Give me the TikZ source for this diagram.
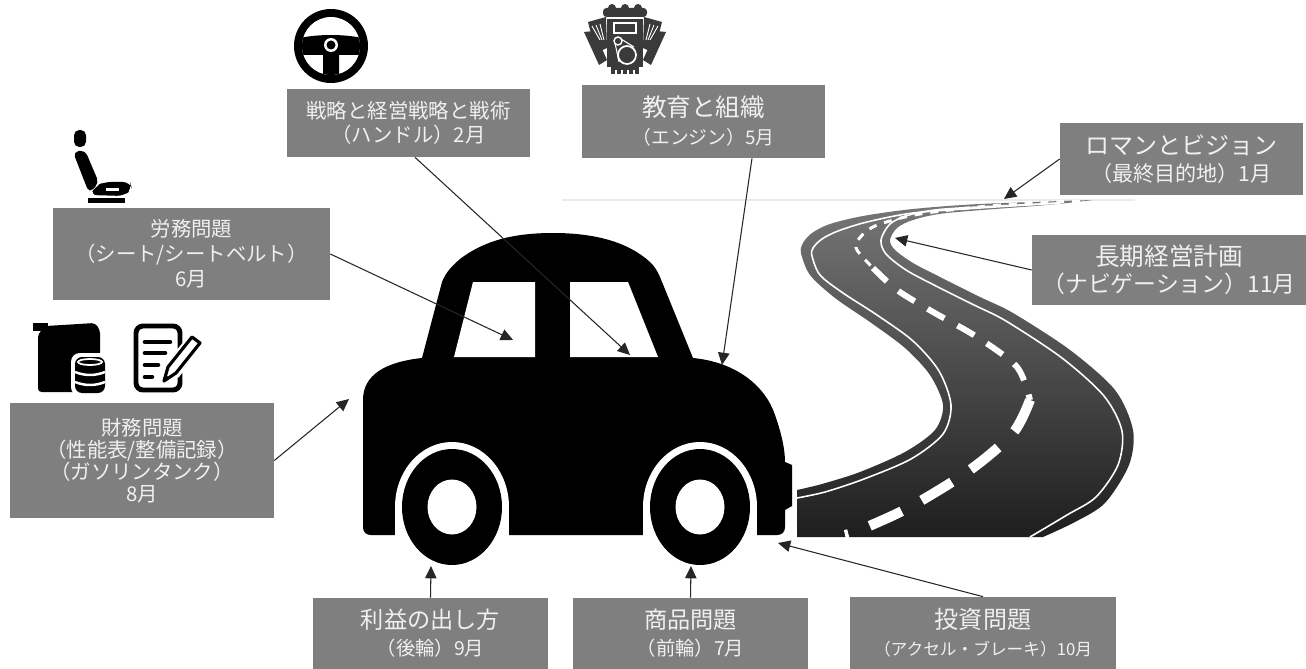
\documentclass[tikz,border=0pt]{standalone}
\usepackage{fontspec}
\newfontfamily\jp{Noto Sans CJK JP}
\usetikzlibrary{arrows.meta}
\definecolor{boxgray}{HTML}{7F7F7F}
\definecolor{boxtext}{HTML}{F0F0F0}
\definecolor{roadtop}{HTML}{777777}
\definecolor{roadmid}{HTML}{3C3C3C}
\definecolor{roadbot}{HTML}{1E1E1E}
\definecolor{enginegray}{HTML}{3A3A3A}

\begin{document}
\begin{tikzpicture}[x=0.02cm,y=-0.02cm,
    tag/.style={fill=boxgray,text=boxtext,align=center,inner sep=0pt},
    pointer/.style={-{Triangle[length=7pt,width=6.5pt]},line width=0.6pt,draw=black!85}]
     \useasboundingbox (0,0) rectangle (1306,669);
     \fill[white] (0,0) rectangle (1306,669);

     % horizon and road
     \draw[black!8,line width=1.5pt] (562,200) -- (1135,200);
     \shade[top color=roadtop,middle color=roadmid,bottom color=roadbot]
       plot[smooth] coordinates {(1093,200) (1047,205) (947,213) (913,220) (897,228) (890,240) (895,250) (913,263) (940,277) (980,297) (1013,313) (1070,350) (1115,390) (1133,430) (1129,465) (1105,503) (1075,522) (1043,537)}
       -- (797,537) -- (797,490)
       -- plot[smooth] coordinates {(797,490) (822,484) (860,472) (905,452) (935,430) (943,405) (930,375) (905,348) (870,322) (835,298) (810,275) (801,253) (803,243) (812,233) (830,224) (863,216) (913,209) (980,204) (1093,200)}
       -- cycle;
     \draw[white,line width=0.9pt] plot[smooth] coordinates {(1060,203) (980,208) (913,213) (867,222) (838,231) (822,239) (813,248) (812,256) (820,275) (843,293) (877,315) (913,341) (939,371) (951,405) (943,434) (911,459) (864,479) (825,492) (797,498)};
     \draw[white,line width=0.9pt] plot[smooth] coordinates {(1060,203) (1040,204) (945,209) (909,215) (890,224) (881,240) (886,254) (906,270) (934,285) (974,305) (1006,321) (1062,358) (1104,396) (1122,431) (1118,465) (1096,497) (1067,515) (1030,537)};
     \draw[white,line width=1.7pt,dash pattern=on 4.5pt off 4.5pt] plot[smooth] coordinates {(1080,201) (1000,205) (920,214) (875,226) (858,240) (857,250) (873,268)};
     \draw[white,line width=3.4pt,dash pattern=on 11pt off 8.5pt] plot[smooth] coordinates {(873,268) (897,290) (933,312) (977,337) (1017,367) (1030,400)};
     \draw[white,line width=5.7pt,dash pattern=on 20pt off 13pt] plot[smooth] coordinates {(1030,400) (1013,433) (970,470) (910,507) (860,530) (845,535)};

     % car
     \fill (363,400) .. controls (363,375) and (385,362) .. (422,358)
       -- (442,282) .. controls (446,272) and (452,266) .. (460,259)
       .. controls (485,240) and (515,233) .. (553,233)
       .. controls (595,233) and (628,242) .. (650,262)
       .. controls (654,266) and (657,270) .. (660,277)
       -- (693,358) .. controls (735,362) and (765,385) .. (775,415)
       .. controls (782,435) and (785,450) .. (785,462)
       -- (792,465) -- (792,506) -- (785,510) -- (785,527)
       .. controls (785,532) and (782,535) .. (777,535)
       -- (371,535) .. controls (366,535) and (363,532) .. (363,527) -- cycle;
     \fill[white] (473,282) -- (535,282) -- (535,357) -- (454,357) -- cycle;
     \fill[white] (570,282) -- (628,282) -- (658,357) -- (570,357) -- cycle;
     \foreach \cx in {452,700} {
       \fill[white] (\cx,507) ellipse[x radius=57,y radius=65];
       \fill[white] (\cx-57,507) rectangle (\cx+57,536);
       \fill (\cx,507) ellipse[x radius=50,y radius=58];
       \fill[white] (\cx,507) ellipse[x radius=24.5,y radius=27.5];
     }

     % steering wheel
     \fill (331,46) circle[radius=37];
     \fill[white] (331,46) circle[radius=29];
     \begin{scope}
       \clip (331,46) circle[radius=29];
       \fill (290,41) .. controls (310,33) and (352,33) .. (372,41) -- (372,55) -- (339,55) -- (339,80) -- (323,80) -- (323,55) -- (290,55) -- cycle;
     \end{scope}
     \fill[white] (331,45) circle[radius=7];
     \fill (331,45) circle[radius=4.5];

     % engine
     \begin{scope}[fill=enginegray]
       \fill[rounded corners=2] (603,8) rectangle (647,17);
       \foreach \ex in {612,625,638} \fill (\ex,8) circle[radius=4];
       \fill (607,19) rectangle (643,67);
       \fill (611,67) rectangle (639,74);
       \fill (588,22) -- (606,17) -- (607,48) -- (596,53) -- cycle;
       \fill (662,22) -- (644,17) -- (643,48) -- (654,53) -- cycle;
       \fill (584,32) -- (594,31) -- (607,60) -- (599,65) -- cycle;
       \fill (666,32) -- (656,31) -- (643,60) -- (651,65) -- cycle;
     \end{scope}
     \draw[white,line width=0.7pt] (614,23) rectangle (636,33);
     \draw[white,line width=1pt] (627,55) circle[radius=9];
     \draw[white,line width=0.8pt] (618,41) circle[radius=4];
     \draw[white,line width=0.6pt] (615,43) -- (619,62) (621,39) -- (634,47);
     \foreach \tx in {616,622,628,634} \draw[white,line width=0.6pt] (\tx,70) -- (\tx,74);
     \foreach \k in {0,1,2} {
       \draw[white,line width=0.5pt] (592+\k*4,26-\k) -- (600+\k*2,40);
       \draw[white,line width=0.5pt] (658-\k*4,26-\k) -- (650-\k*2,40);
     }

     % seat
     \fill[rounded corners=3] (74,130) rectangle (86,147);
     \fill[rounded corners=3] (73,152) -- (85,150) -- (99,183) -- (89,193) -- cycle;
     \fill[rounded corners=4] (90,195) -- (96,186) -- (104,182) -- (130,182) -- (132,189) -- (124,196) -- cycle;
     \fill[white] (106,188) rectangle (119,191);
     \fill (88,198) rectangle (125,203);

     % fuel can and barrel
     \fill (33,323) rectangle (48,331);
     \fill[rounded corners=2] (38,334) -- (46,326) -- (95,323) -- (100,330) -- (100,392) -- (38,392) -- cycle;
     \fill[white,rounded corners=5] (71,353) rectangle (109,396);
     \fill[rounded corners=4] (75,357) rectangle (105,393);
     \draw[white,line width=1pt] (90,362) ellipse[x radius=12,y radius=3];
     \draw[white,line width=1.4pt] (75,372) .. controls (85,376) and (95,376) .. (105,372);
     \draw[white,line width=1.4pt] (75,382) .. controls (85,386) and (95,386) .. (105,382);

     % record sheet and pencil
     \draw[line width=2.8pt,rounded corners=4] (136,326) rectangle (180,390);
     \draw[line width=2.6pt,line cap=round] (145,342) -- (170,342) (145,353) -- (165,353) (145,365) -- (158,365) (145,377) -- (152,377);
     \fill[white] (204,345) -- (191,333) -- (164,365) -- (159,387) -- (179,377) -- cycle;
     \draw[line width=1.8pt,line join=round] (200,343) -- (192,337) -- (168,367) -- (164,381) -- (176,373) -- cycle;
     \fill (167,376) -- (164,381) -- (170,378) -- cycle;

     % labels
     \node[tag,minimum width=4.86cm,minimum height=1.36cm,font=\jp\fontsize{11.6}{13.5}\selectfont] (steer) at (408.5,123)
       {戦略と経営戦略と戦術\\（ハンドル）2月};
     \node[tag,minimum width=4.86cm,minimum height=1.46cm,font=\jp\fontsize{14}{16}\selectfont] (engine) at (703.5,121.5)
       {教育と組織\\\fontsize{10.7}{16}\selectfont（エンジン）5月};
     \node[tag,minimum width=5.54cm,minimum height=1.84cm,font=\jp\fontsize{11.6}{14.2}\selectfont] (seat) at (191.5,254)
       {労務問題\\（シート/シートベルト）\\6月};
     \node[tag,minimum width=5.28cm,minimum height=2.30cm,font=\jp\fontsize{11.6}{12.6}\selectfont] (fuel) at (142,460.5)
       {財務問題\\（性能表/整備記録）\\（ガソリンタンク）\\8月};
     \node[tag,minimum width=4.70cm,minimum height=1.42cm,font=\jp\fontsize{13.2}{15.3}\selectfont] (rear) at (430.5,633.5)
       {利益の出し方\\\fontsize{11}{15.3}\selectfont（後輪）9月};
     \node[tag,minimum width=4.70cm,minimum height=1.42cm,font=\jp\fontsize{13.2}{15.3}\selectfont] (front) at (690.5,633.5)
       {商品問題\\\fontsize{11}{15.3}\selectfont（前輪）7月};
     \node[tag,minimum width=5.32cm,minimum height=1.44cm,font=\jp\fontsize{13.7}{15.3}\selectfont] (pedal) at (983,633)
       {投資問題\\\fontsize{9.5}{15.3}\selectfont（アクセル・ブレーキ）10月};
     \node[tag,minimum width=4.86cm,minimum height=1.44cm,font=\jp\fontsize{13.7}{15.3}\selectfont] (goal) at (1181.5,159)
       {ロマンとビジョン\\\fontsize{12}{15.3}\selectfont（最終目的地）1月};
     \node[tag,minimum width=5.48cm,minimum height=1.40cm,font=\jp\fontsize{14}{15.3}\selectfont] (navi) at (1169,270)
       {長期経営計画\\\fontsize{13}{15.3}\selectfont（ナビゲーション）11月};

     \coordinate (steer_pt) at (630,355);
     \coordinate (engine_pt) at (722,365);
     \coordinate (seat_pt) at (513,340);
     \coordinate (fuel_pt) at (349,399);
     \coordinate (rear_pt) at (431,566);
     \coordinate (front_pt) at (691,566);
     \coordinate (pedal_pt) at (778,543);
     \coordinate (goal_pt) at (1004,199);
     \coordinate (navi_pt) at (895,238);

     \draw[pointer] ([xshift=0.13cm]steer.south) -- (steer_pt);
     \draw[pointer] ([xshift=0.97cm]engine.south) -- (engine_pt);
     \draw[pointer] (seat.east) -- (seat_pt);
     \draw[pointer] (fuel.east) -- (fuel_pt);
     \draw[pointer] (rear.north) -- (rear_pt);
     \draw[pointer] (front.north) -- (front_pt);
     \draw[pointer] (pedal.north) -- (pedal_pt);
     \draw[pointer] (goal.west) -- (goal_pt);
     \draw[pointer] (navi.west) -- (navi_pt);
\end{tikzpicture}
\end{document}
